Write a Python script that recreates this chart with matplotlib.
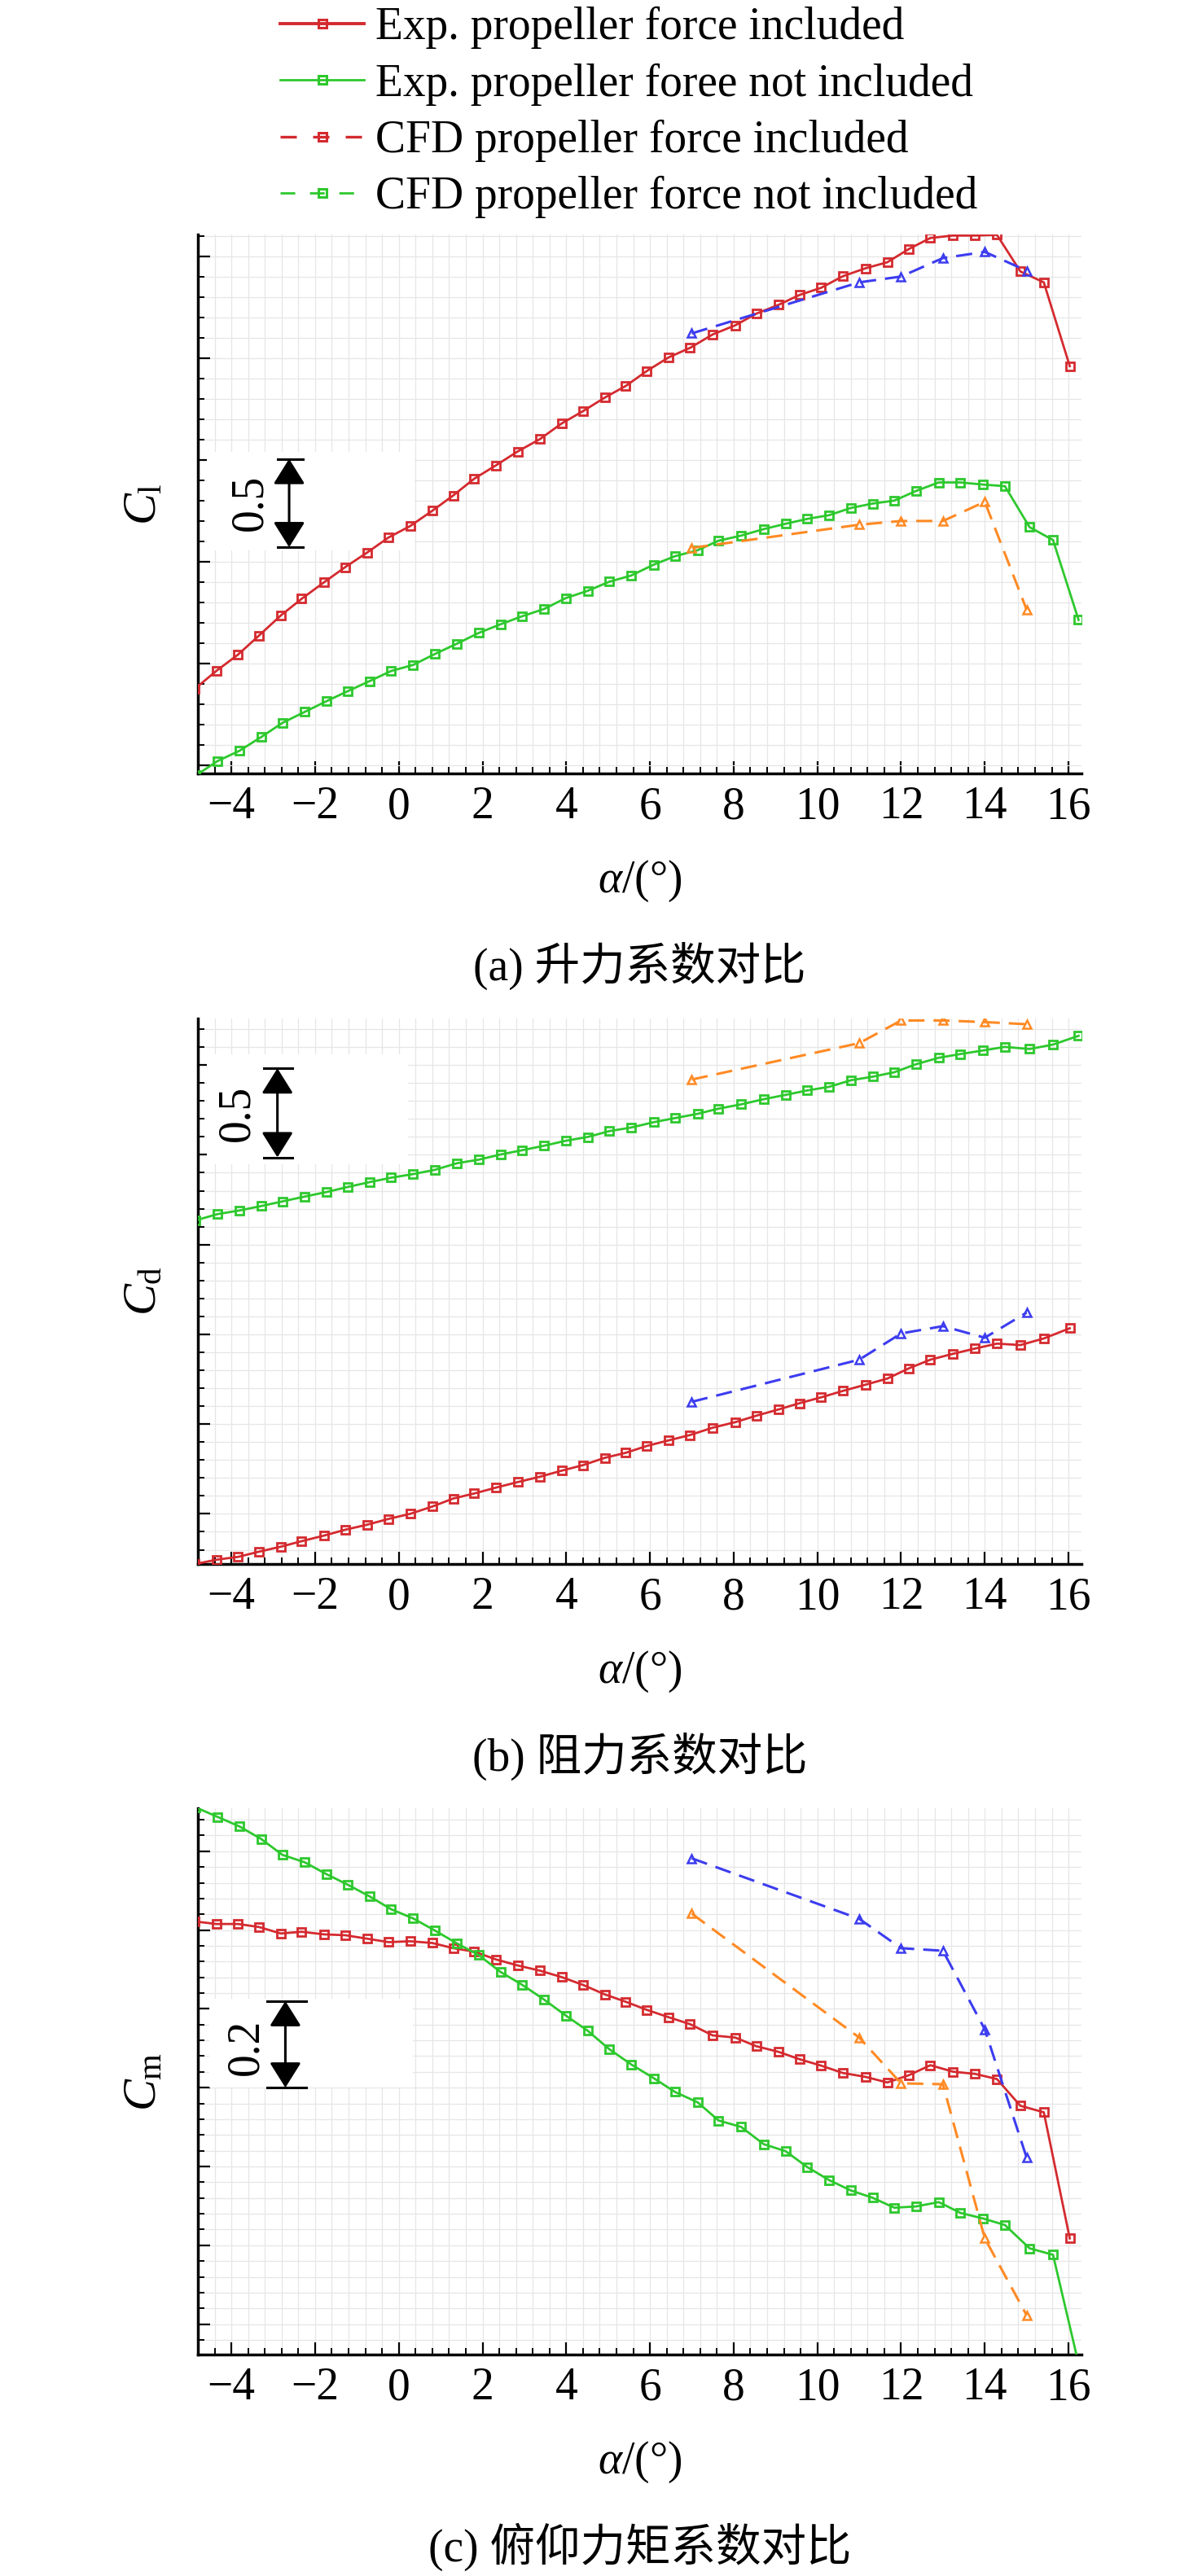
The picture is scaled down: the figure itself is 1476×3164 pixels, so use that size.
import numpy as np
import matplotlib
matplotlib.use("Agg")
import matplotlib.pyplot as plt
from matplotlib.lines import Line2D
from matplotlib.patches import Rectangle, ArrowStyle
from matplotlib.ticker import MultipleLocator, AutoMinorLocator

plt.rcParams['font.family'] = ['Liberation Serif', 'Noto Sans CJK SC', 'DejaVu Sans']
plt.rcParams['mathtext.fontset'] = 'custom'
plt.rcParams['mathtext.rm'] = 'Liberation Serif'
plt.rcParams['mathtext.it'] = 'Liberation Serif:italic'
plt.rcParams['font.size'] = 40

# ---- donnees ----
alpha_red = [-4.88, -4.36, -3.84, -3.34, -2.82, -2.32, -1.79, -1.28, -0.76, -0.24, 0.27,
             0.80, 1.30, 1.80, 2.32, 2.84, 3.37, 3.89, 4.40, 4.92, 5.42, 5.93, 6.45,
             6.96, 7.50, 8.04, 8.54, 9.07, 9.57, 10.09, 10.61, 11.15, 11.67, 12.19,
             12.70, 13.24, 13.76, 14.29, 14.85, 15.41, 16.03]
alpha_green = [-4.85, -4.33, -3.81, -3.29, -2.78, -2.25, -1.72, -1.22, -0.70, -0.18, 0.34,
               0.86, 1.39, 1.91, 2.43, 2.95, 3.47, 3.99, 4.51, 5.03, 5.55, 6.09, 6.60,
               7.14, 7.64, 8.18, 8.72, 9.24, 9.76, 10.28, 10.80, 11.32, 11.84, 12.36,
               12.90, 13.42, 13.96, 14.48, 15.07, 15.63, 16.24]
alpha_cfd = [7, 11, 12, 13, 14, 15]

cl_exp_in = [-0.145, -0.042, 0.051, 0.159, 0.273, 0.368, 0.461, 0.548, 0.630, 0.717, 0.781,
             0.868, 0.955, 1.050, 1.126, 1.205, 1.275, 1.364, 1.434, 1.511, 1.577, 1.663,
             1.740, 1.794, 1.870, 1.922, 1.988, 2.038, 2.094, 2.135, 2.201, 2.246, 2.280,
             2.356, 2.418, 2.432, 2.432, 2.436, 2.228, 2.166, 1.690]
cl_exp_out = [-0.636, -0.554, -0.496, -0.418, -0.337, -0.275, -0.213, -0.157, -0.100, -0.042,
              -0.008, 0.054, 0.113, 0.174, 0.223, 0.269, 0.310, 0.372, 0.413, 0.465, 0.500,
              0.562, 0.610, 0.644, 0.698, 0.727, 0.764, 0.794, 0.822, 0.843, 0.884, 0.909,
              0.926, 0.981, 1.029, 1.029, 1.017, 1.008, 0.775, 0.702, 0.248]
cl_cfd_in = [1.876, 2.166, 2.199, 2.304, 2.339, 2.232]
cl_cfd_out = [0.657, 0.789, 0.810, 0.810, 0.919, 0.306]

cd_exp_in = [-0.282, -0.257, -0.241, -0.212, -0.184, -0.153, -0.122, -0.089, -0.061, -0.028,
             0.000, 0.041, 0.086, 0.114, 0.147, 0.178, 0.208, 0.242, 0.273, 0.314, 0.342,
             0.381, 0.412, 0.442, 0.483, 0.514, 0.550, 0.585, 0.620, 0.653, 0.689, 0.724,
             0.758, 0.816, 0.864, 0.897, 0.926, 0.954, 0.946, 0.983, 1.040]
cd_exp_out = [1.645, 1.680, 1.700, 1.725, 1.751, 1.778, 1.804, 1.832, 1.859, 1.884, 1.904,
              1.928, 1.965, 1.985, 2.014, 2.038, 2.063, 2.091, 2.112, 2.145, 2.165, 2.195,
              2.218, 2.242, 2.271, 2.295, 2.324, 2.348, 2.373, 2.393, 2.430, 2.450, 2.475,
              2.520, 2.556, 2.577, 2.597, 2.617, 2.605, 2.630, 2.679]
cd_cfd_in = [0.628, 0.864, 1.011, 1.052, 0.987, 1.128]
cd_cfd_out = [2.434, 2.638, 2.765, 2.765, 2.756, 2.744]

cm_exp_in = [0.385, 0.379, 0.379, 0.372, 0.357, 0.361, 0.355, 0.353, 0.345, 0.337, 0.339,
             0.335, 0.323, 0.315, 0.297, 0.283, 0.271, 0.256, 0.238, 0.216, 0.199, 0.180,
             0.163, 0.147, 0.121, 0.116, 0.096, 0.083, 0.066, 0.051, 0.034, 0.025, 0.012,
             0.029, 0.052, 0.037, 0.032, 0.020, -0.042, -0.057, -0.349]
cm_exp_out = [0.649, 0.627, 0.605, 0.576, 0.539, 0.522, 0.494, 0.470, 0.443, 0.413, 0.392,
              0.364, 0.334, 0.307, 0.268, 0.238, 0.204, 0.167, 0.132, 0.089, 0.054, 0.022,
              -0.010, -0.034, -0.076, -0.091, -0.131, -0.147, -0.184, -0.214, -0.238,
              -0.255, -0.278, -0.275, -0.265, -0.290, -0.303, -0.318, -0.372, -0.387, -0.639]
cm_cfd_in = [0.531, 0.391, 0.323, 0.317, 0.135, -0.162]
cm_cfd_out = [0.403, 0.116, 0.010, 0.008, -0.349, -0.527]

labels = ["Exp. propeller force included", "Exp. propeller foree not included",
          "CFD propeller force included", "CFD propeller force not included"]
captions = ["(a) 升力系数对比", "(b) 阻力系数对比", "(c) 俯仰力矩系数对比"]

RED = '#d42a2f'
GREEN = '#2dc82d'
BLUE = '#3c3cf0'
ORANGE = '#ff8a24'

fig = plt.figure(figsize=(14.76, 31.64), dpi=100)
W, H = 1476., 3164.

# (top_px, bottom_px, ylim, major, ylabel, donnees, barre)
panels = [
    (288, 950, (-0.6245, 2.438), 0.5787, r'$C_{\mathrm{l}}$',
     (cl_exp_in, cl_exp_out, cl_cfd_in, cl_cfd_out),
     dict(x=-2.62, y0=0.661, y1=1.163, cap=(-2.89, -2.29), tx=-3.55, ty=0.915, txt='0.5',
          box=(-4.58, 0.642, 4.95, 0.56))),
    (1251, 1921, (-0.281, 2.776), 0.503, r'$C_{\mathrm{d}}$',
     (cd_exp_in, cd_exp_out, cd_cfd_in, cd_cfd_out),
     dict(x=-2.90, y0=1.998, y1=2.497, cap=(-3.22, -2.54), tx=-3.86, ty=2.245, txt='0.5',
          box=(-4.58, 1.96, 4.8, 0.615))),
    (2221, 2892, (-0.618, 0.647), 0.1825, r'$C_{\mathrm{m}}$',
     (cm_exp_in, cm_exp_out, cm_cfd_in, cm_cfd_out),
     dict(x=-2.71, y0=0.0, y1=0.2006, cap=(-3.15, -2.22), tx=-3.64, ty=0.094, txt='0.2',
          box=(-4.52, 0.0, 4.86, 0.205))),
]

left_px, right_px = 243, 1328
for k, (tp, bp, ylim, major, ylab, data, bar) in enumerate(panels):
    ax = fig.add_axes([left_px / W, 1 - bp / H, (right_px - left_px) / W, (bp - tp) / H])
    y_in, y_out, y_cin, y_cout = data
    ax.plot(alpha_red, y_in, '-', color=RED, lw=2.0, marker='s', ms=6.8, mfc='none', mew=2.0, zorder=3)
    ax.plot(alpha_green, y_out, '-', color=GREEN, lw=2.0, marker='s', ms=6.8, mfc='none', mew=2.0, zorder=3)
    ax.plot(alpha_cfd, y_cin, color=BLUE, lw=2.2, ls=(0, (6.5, 3.6)), marker='^', ms=7, mfc='none', mew=1.8, zorder=3)
    ax.plot(alpha_cfd, y_cout, color=ORANGE, lw=2.2, ls=(0, (6.5, 3.6)), marker='^', ms=7, mfc='none', mew=1.8, zorder=3)

    ax.set_xlim(-4.8, 16.31)
    ax.set_ylim(*ylim)
    ax.xaxis.set_major_locator(MultipleLocator(2))
    ax.xaxis.set_minor_locator(AutoMinorLocator(5))
    ax.yaxis.set_major_locator(MultipleLocator(major))
    ax.yaxis.set_minor_locator(AutoMinorLocator(5))
    ax.grid(which='both', color='#e6e6e6', lw=0.9)
    for s in ['top', 'right']:
        ax.spines[s].set_visible(False)
    for s in ['left', 'bottom']:
        ax.spines[s].set_linewidth(2.5)
    ax.tick_params(which='major', direction='in', length=11, width=1.6, labelsize=40, pad=11)
    ax.tick_params(which='minor', direction='in', length=5.5, width=1.4)
    ax.tick_params(axis='y', labelleft=False)

    ax.set_xlabel(r'$\alpha$/(°)', fontsize=40)
    ax.xaxis.set_label_coords(0.5, -132 / (bp - tp))
    ax.xaxis.label.set_va('center')
    ax.set_ylabel(ylab, fontsize=42)
    ax.yaxis.set_label_coords(-0.061, 0.5)
    ax.yaxis.label.set_va('center')

    # barre d'echelle
    bx, by, bw, bh = bar['box']
    ax.add_patch(Rectangle((bx, by), bw, bh, facecolor='white', edgecolor='none', zorder=1.6))
    ax.annotate('', xy=(bar['x'], bar['y1']), xytext=(bar['x'], bar['y0']),
                arrowprops=dict(arrowstyle=ArrowStyle('<|-|>', head_length=0.8, head_width=0.5),
                                color='k', lw=2.2, mutation_scale=24, shrinkA=0, shrinkB=0),
                zorder=4)
    for yy in (bar['y0'], bar['y1']):
        ax.plot(bar['cap'], [yy, yy], color='k', lw=2.2, zorder=4)
    ax.text(bar['tx'], bar['ty'], bar['txt'], rotation=90, ha='center', va='center',
            fontsize=40, zorder=4)

    fig.text((left_px + right_px) / 2 / W, 1 - (bp + 236) / H, captions[k],
             ha='center', va='center', fontsize=40)

handles = [
    Line2D([], [], color=RED, lw=2.8, marker='s', ms=7, mfc='none', mew=2.2),
    Line2D([], [], color=GREEN, lw=2.0, marker='s', ms=7, mfc='none', mew=2.2),
    Line2D([], [], color=RED, lw=2.4, ls=(0, (6, 6)), marker='s', ms=7, mfc='none', mew=2.2),
    Line2D([], [], color=GREEN, lw=2.0, ls=(0, (6.5, 6.5)), marker='s', ms=7, mfc='none', mew=2.2),
]
fig.legend(handles, labels, loc='upper left', bbox_to_anchor=(344 / W, 1 - 8 / H),
           frameon=False, fontsize=40, handlelength=1.86, handletextpad=0.25,
           labelspacing=0.31, borderpad=0, borderaxespad=0)

plt.savefig('out.png', dpi=100)
